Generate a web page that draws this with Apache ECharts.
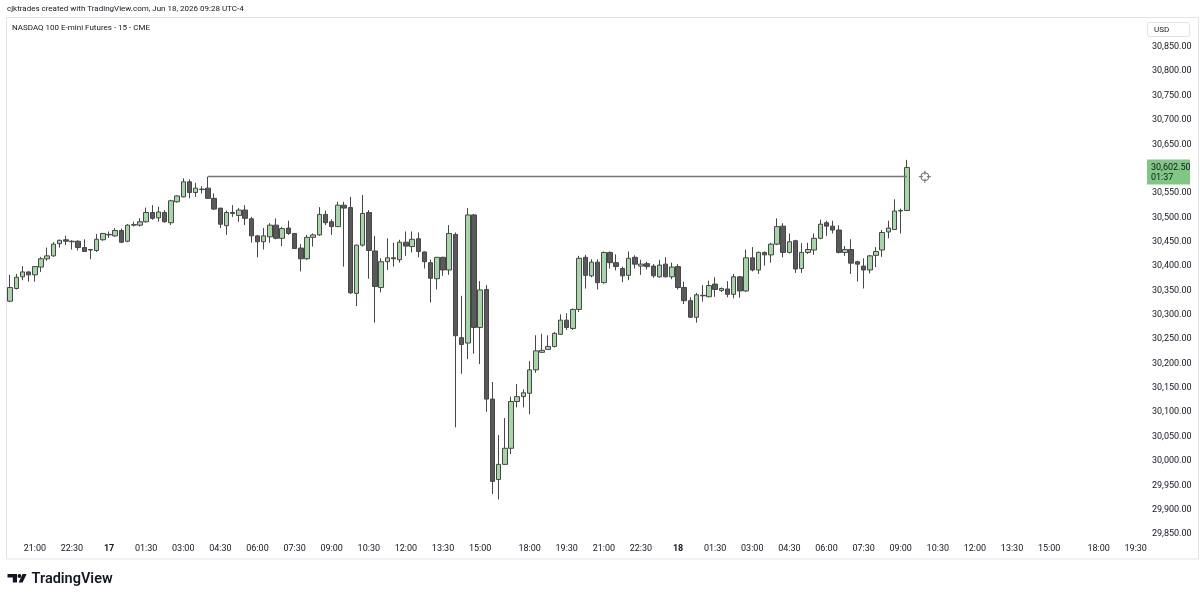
<!DOCTYPE html>
<html lang="en">
<head>
<meta charset="UTF-8">
<title>NASDAQ 100 E-mini Futures - 15 - CME</title>
<style>
html, body { margin: 0; padding: 0; background: #fff; }
#main { width: 1200px; height: 599px; }
</style>
</head>
<body>
<div id="main"></div>
<script src="https://cdn.jsdelivr.net/npm/echarts@6/dist/echarts.min.js"></script>
<script>
// 15 min bars, Jun 16 20:00 -> Jun 18 09:15 (CME break 17:00-18:00 has no bars)
var barCount = 146;
var slotCount = 184;   // time scale runs on to 19:45 on the 18th

var opens = [
    30328,30354,30378,30388,30382,30398,30415,30421,30446,30454,
    30451,30451,30438,30434,30432,30454,30464,30462,30473,30451,
    30484,30484,30491,30510,30499,30510,30489,30532,30542,30573,
    30551,30558,30560,30539,30519,30483,30510,30504,30515,30497,
    30462,30450,30460,30484,30457,30478,30467,30437,30415,30459,
    30464,30506,30491,30481,30525,30520,30344,30443,30510,30431,
    30356,30409,30417,30413,30449,30440,30456,30429,30407,30374,
    30418,30392,30465,30253,30242,30505,30274,30352,30127,29962,
    29993,30026,30122,30132,30139,30187,30223,30229,30235,30260,
    30289,30272,30311,30418,30380,30408,30366,30428,30407,30395,
    30381,30418,30400,30405,30400,30378,30404,30378,30399,30356,
    30329,30295,30340,30337,30363,30350,30353,30342,30378,30349,
    30417,30392,30428,30423,30445,30482,30428,30452,30395,30428,
    30433,30457,30489,30482,30474,30428,30434,30409,30400,30392,
    30422,30433,30470,30475,30514,30514
];
var highs = [
    30382,30384,30400,30389,30400,30419,30438,30449,30454,30462,
    30453,30453,30455,30434,30466,30468,30471,30478,30477,30486,
    30491,30498,30520,30525,30522,30515,30536,30545,30580,30578,
    30571,30564,30583.5,30549,30519,30514,30525,30519,30525,30501,
    30464,30478,30488,30498,30480,30493,30468,30445,30464,30467,
    30521,30514,30496,30532,30532,30542,30444,30546,30515,30462,
    30416,30457,30448,30454,30471,30471,30469,30430,30413,30418,
    30419,30484,30469,30339,30519,30507,30369,30361,30162,30053,
    30088,30132,30158,30147,30205,30258,30261,30258,30265,30301,
    30303,30313,30421,30423,30414,30414,30430,30430,30424,30399,
    30430,30422,30413,30409,30404,30413,30418,30407,30404,30368,
    30336,30345,30361,30370,30377,30356,30369,30384,30380,30434,
    30439,30430,30430,30448,30498,30488,30467,30454,30447,30448,
    30467,30495,30493,30493,30484,30441,30455,30411,30416,30423,
    30439,30474,30493,30537,30518,30618
];
var lows = [
    30326,30352,30371,30368,30368,30388,30411,30419,30438,30443,
    30434,30432,30430,30414,30429,30452,30458,30460,30447,30449,
    30481,30481,30489,30495,30491,30489,30484,30530,30541,30539,
    30542,30549,30538,30515,30478,30464,30501,30491,30484,30448,
    30418,30434,30448,30455,30441,30464,30435,30389,30413,30440,
    30462,30484,30464,30480,30399,30343,30318,30440,30374,30284,
    30346,30392,30399,30407,30421,30428,30418,30395,30325,30352,
    30380,30382,30069,30179,30209,30220,30199,30101,29932,29921,
    29992,30014,30110,30110,30096,30181,30222,30229,30233,30259,
    30269,30269,30306,30354,30377,30352,30364,30395,30391,30367,
    30371,30395,30382,30393,30376,30376,30377,30373,30352,30322,
    30294,30284,30327,30336,30337,30347,30336,30334,30335,30347,
    30389,30384,30401,30407,30443,30418,30426,30386,30386,30425,
    30423,30455,30462,30467,30426,30421,30384,30368,30354,30385,
    30398,30419,30457,30474,30467,30513
];
var closes = [
    30356,30377,30388,30382,30399,30415,30421,30445,30453,30451,
    30450,30438,30430,30433,30455,30467,30465,30473,30449,30484,
    30485,30491,30510,30498,30511,30491,30534,30544,30573,30551,
    30560,30557,30539,30517,30486,30510,30508,30515,30498,30462,
    30450,30462,30484,30457,30477,30467,30436,30415,30459,30464,
    30506,30489,30481,30525,30519,30345,30443,30508,30432,30358,
    30409,30417,30415,30449,30441,30455,30430,30409,30375,30418,
    30392,30467,30257,30239,30505,30274,30351,30127,29958,29993,
    30026,30122,30132,30140,30187,30226,30227,30235,30262,30289,
    30274,30311,30416,30381,30408,30366,30428,30407,30399,30380,
    30416,30404,30404,30399,30380,30402,30378,30398,30356,30329,
    30295,30341,30339,30360,30352,30354,30342,30378,30349,30417,
    30392,30428,30423,30445,30481,30428,30450,30394,30428,30434,
    30457,30486,30482,30474,30428,30434,30406,30404,30392,30421,
    30430,30469,30478,30513,30513,30602.5
];

// labels shown on the time scale (day + time of the slot)
var tickTimes = [
    '16 21:00','16 22:30','17 00:00','17 01:30','17 03:00','17 04:30','17 06:00',
    '17 07:30','17 09:00','17 10:30','17 12:00','17 13:30','17 15:00','17 18:00',
    '17 19:30','17 21:00','17 22:30','18 00:00','18 01:30','18 03:00','18 04:30',
    '18 06:00','18 07:30','18 09:00','18 10:30','18 12:00','18 13:30','18 15:00',
    '18 18:00','18 19:30'
];
var countdown = '01:37';

function pad(n) { return (n < 10 ? '0' : '') + n; }

var categories = [];
var day = 16, mins = 20 * 60;
for (var i = 0; i < slotCount; i++) {
    categories.push(day + ' ' + pad(Math.floor(mins / 60)) + ':' + pad(mins % 60));
    mins += 15;
    if (mins === 17 * 60) mins = 18 * 60;     // daily maintenance break
    if (mins === 24 * 60) { mins = 0; day++; }
}
var tickSet = {};
tickTimes.forEach(function (t) { tickSet[t] = true; });

var candles = [];
for (var i = 0; i < barCount; i++) {
    candles.push([opens[i], closes[i], lows[i], highs[i]]);
}

// previous high that the horizontal ray starts from
var hiIdx = 0;
for (var i = 0; i < barCount - 1; i++) {
    if (highs[i] > highs[hiIdx]) hiIdx = i;
}
var hiLevel = highs[hiIdx];

var font = 'Roboto, "Noto Sans", sans-serif';
var textCol = '#131722';

var myChart = echarts.init(document.getElementById('main'));
myChart.setOption({
    animation: false,
    backgroundColor: '#ffffff',
    grid: { left: 7, right: 55, top: 22.48, bottom: 40.6 },
    xAxis: {
        type: 'category',
        data: categories,
        boundaryGap: true,
        offset: -18,
        axisLine: { show: false },
        axisTick: { show: false },
        splitLine: { show: false },
        axisLabel: {
            margin: 4,
            fontSize: 9,
            fontFamily: font,
            color: textCol,
            interval: function (idx, val) { return tickSet[val] === true; },
            formatter: function (val) {
                var t = val.split(' ');
                if (t[1] === '00:00') return '{b|' + t[0] + '}';
                return t[1];
            },
            rich: { b: { fontWeight: 'bold', fontSize: 9, fontFamily: font, color: textCol } }
        }
    },
    yAxis: {
        type: 'value',
        position: 'right',
        min: 29800,
        max: 30900,
        interval: 50,
        axisLine: { show: false },
        axisTick: { show: false },
        splitLine: { show: false },
        axisLabel: {
            margin: 7,
            fontSize: 9,
            fontFamily: font,
            color: textCol,
            formatter: function (v) {
                if (v <= 29800 || v >= 30900 || v === 30600) return '';
                return v.toLocaleString('en-US', { minimumFractionDigits: 2, maximumFractionDigits: 2 });
            }
        }
    },
    series: [{
        type: 'candlestick',
        data: candles,
        barWidth: 5,
        itemStyle: {
            color: '#a5d6a7',
            color0: '#5a5a5a',
            borderColor: '#474747',
            borderColor0: '#474747',
            borderWidth: 1
        },
        markLine: {
            silent: true,
            symbol: 'none',
            label: { show: false },
            lineStyle: { color: '#767676', width: 1.4, type: 'solid' },
            data: [[
                { coord: [hiIdx, hiLevel] },
                { coord: [barCount - 1, hiLevel] }
            ]]
        }
    }]
});

// price tag, ray icon and page furniture
var tagY = myChart.convertToPixel({ yAxisIndex: 0 }, closes[barCount - 1]);
var rayEnd = myChart.convertToPixel({ gridIndex: 0 }, [barCount - 1, hiLevel]);
var ix = rayEnd[0] + 18, iy = rayEnd[1];

myChart.setOption({
    graphic: { elements: [
        { id: 'hdr', type: 'text', x: 7, y: 9,
          style: { text: 'cjktrades created with TradingView.com, Jun 18, 2026 09:28 UTC-4',
                   fontSize: 8, fontFamily: font, fill: textCol, verticalAlign: 'middle' } },
        { id: 'frame', type: 'rect', silent: true,
          shape: { x: 6.5, y: 17.5, width: 1192, height: 541.5 },
          style: { fill: 'none', stroke: '#e0e3eb', lineWidth: 1 } },
        { id: 'title', type: 'text', x: 12, y: 28,
          style: { text: 'NASDAQ 100 E-mini Futures - 15 - CME',
                   fontSize: 8, fontFamily: font, fill: textCol, verticalAlign: 'middle' } },
        { id: 'usdBox', type: 'rect',
          shape: { x: 1147.5, y: 22.5, width: 42, height: 14, r: 2 },
          style: { fill: '#fff', stroke: '#e0e3eb', lineWidth: 1 } },
        { id: 'usd', type: 'text', x: 1154, y: 29.5,
          style: { text: 'USD', fontSize: 8, fontFamily: font, fill: textCol, verticalAlign: 'middle' } },
        { id: 'tag', type: 'rect',
          shape: { x: 1147, y: tagY - 8, width: 43, height: 25 },
          style: { fill: '#81c784' } },
        { id: 'tagPrice', type: 'text', x: 1151, y: tagY,
          style: { text: closes[barCount - 1].toLocaleString('en-US', { minimumFractionDigits: 2 }),
                   fontSize: 9, fontFamily: font, fill: textCol, verticalAlign: 'middle' } },
        { id: 'tagTime', type: 'text', x: 1151, y: tagY + 10,
          style: { text: countdown, fontSize: 9, fontFamily: font, fill: textCol, verticalAlign: 'middle' } },
        { id: 'icoC', type: 'circle', shape: { cx: ix, cy: iy, r: 4 },
          style: { fill: 'none', stroke: '#6a6a6a', lineWidth: 1 } },
        { id: 'icoT', type: 'line', shape: { x1: ix, y1: iy - 6, x2: ix, y2: iy - 2 }, style: { stroke: '#6a6a6a', lineWidth: 1 } },
        { id: 'icoB', type: 'line', shape: { x1: ix, y1: iy + 2, x2: ix, y2: iy + 6 }, style: { stroke: '#6a6a6a', lineWidth: 1 } },
        { id: 'icoL', type: 'line', shape: { x1: ix - 6, y1: iy, x2: ix - 2, y2: iy }, style: { stroke: '#6a6a6a', lineWidth: 1 } },
        { id: 'icoR', type: 'line', shape: { x1: ix + 2, y1: iy, x2: ix + 6, y2: iy }, style: { stroke: '#6a6a6a', lineWidth: 1 } },
        // TradingView logo
        { id: 'logoT', type: 'polygon',
          shape: { points: [[7.5, 574], [17, 574], [17, 582.5], [12.8, 582.5], [12.8, 577.6], [7.5, 577.6]] },
          style: { fill: textCol } },
        { id: 'logoDot', type: 'circle', shape: { cx: 19.4, cy: 576, r: 1.9 }, style: { fill: textCol } },
        { id: 'logoV', type: 'polygon',
          shape: { points: [[22.6, 574], [26.6, 574], [22.6, 582.5], [18.6, 582.5]] },
          style: { fill: textCol } },
        { id: 'logoTxt', type: 'text', x: 31.5, y: 579,
          style: { text: 'TradingView', fontSize: 14.5, fontWeight: 600, fontFamily: font,
                   fill: textCol, verticalAlign: 'middle' } }
    ] }
});
</script>
</body>
</html>
